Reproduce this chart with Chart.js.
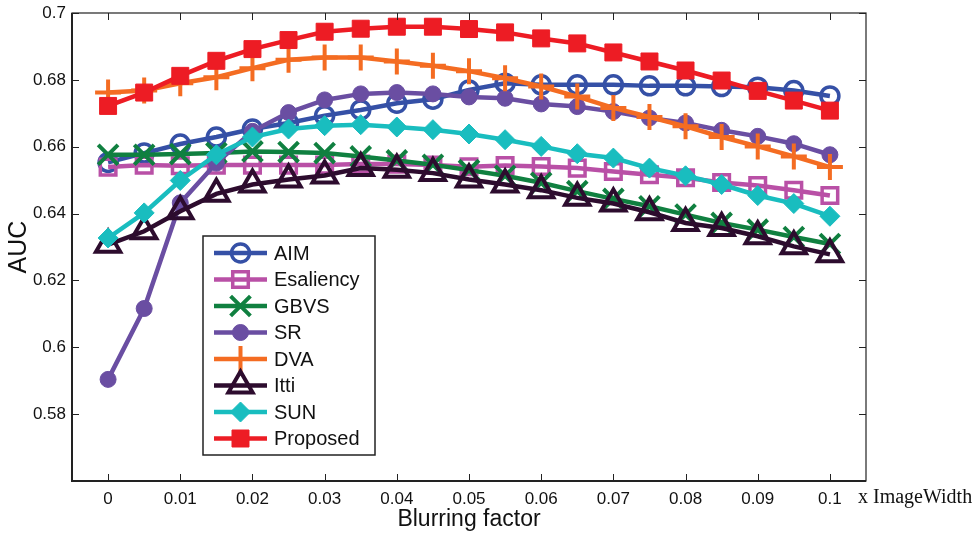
<!DOCTYPE html>
<html>
<head>
<meta charset="utf-8">
<script src="https://cdn.jsdelivr.net/npm/chart.js@4.4.0/dist/chart.umd.min.js"></script>
<style>
  html, body { margin: 0; padding: 0; background: #fff; }
  #wrap { width: 979px; height: 538px; }
</style>
</head>
<body>
<div id="wrap"><canvas id="aucChart" width="979" height="538"></canvas></div>
<script>
// blurring factor (x ImageWidth)
const blurFactors = [0, 0.005, 0.01, 0.015, 0.02, 0.025, 0.03, 0.035, 0.04, 0.045, 0.05,
  0.055, 0.06, 0.065, 0.07, 0.075, 0.08, 0.085, 0.09, 0.095, 0.1];
const xTicks = [0, 0.01, 0.02, 0.03, 0.04, 0.05, 0.06, 0.07, 0.08, 0.09, 0.1];
const yTicks = [0.58, 0.6, 0.62, 0.64, 0.66, 0.68, 0.7];

const aimAuc = [0.6553, 0.6581, 0.6608, 0.6629, 0.6653, 0.6671, 0.6693, 0.6710, 0.6730, 0.6742, 0.6770,
  0.6790, 0.6785, 0.6785, 0.6785, 0.6782, 0.6782, 0.6780, 0.6778, 0.6768, 0.6752];
const esaliencyAuc = [0.6539, 0.6545, 0.6543, 0.6545, 0.6545, 0.6545, 0.6545, 0.6548, 0.6548, 0.6545, 0.6540,
  0.6544, 0.6541, 0.6536, 0.6526, 0.6516, 0.6507, 0.6493, 0.6484, 0.6470, 0.6454];
const gbvsAuc = [0.6576, 0.6576, 0.6578, 0.6581, 0.6586, 0.6584, 0.6581, 0.6571, 0.6559, 0.6546, 0.6530,
  0.6513, 0.6492, 0.6467, 0.6444, 0.6422, 0.6397, 0.6372, 0.6352, 0.6330, 0.6309];
const srAuc = [0.5904, 0.6116, 0.6432, 0.6551, 0.6646, 0.6702, 0.6740, 0.6758, 0.6762, 0.6758, 0.6749,
  0.6745, 0.6728, 0.6720, 0.6705, 0.6686, 0.6671, 0.6649, 0.6631, 0.6609, 0.6576];
const dvaAuc = [0.6762, 0.6768, 0.6790, 0.6808, 0.6835, 0.6860, 0.6867, 0.6867, 0.6855, 0.6842, 0.6826,
  0.6805, 0.6780, 0.6750, 0.6716, 0.6689, 0.6661, 0.6629, 0.6601, 0.6571, 0.6539];
const ittiAuc = [0.6307, 0.6347, 0.6407, 0.6459, 0.6487, 0.6502, 0.6514, 0.6536, 0.6531, 0.6521, 0.6502,
  0.6487, 0.6470, 0.6447, 0.6430, 0.6404, 0.6372, 0.6357, 0.6332, 0.6302, 0.6278];
const sunAuc = [0.6327, 0.6402, 0.6499, 0.6576, 0.6629, 0.6653, 0.6663, 0.6666, 0.6659, 0.6651, 0.6638,
  0.6621, 0.6601, 0.6579, 0.6566, 0.6536, 0.6513, 0.6487, 0.6454, 0.6430, 0.6392];
const proposedAuc = [0.6722, 0.6762, 0.6812, 0.6857, 0.6892, 0.6919, 0.6944, 0.6953, 0.6959, 0.6959, 0.6952,
  0.6942, 0.6924, 0.6909, 0.6882, 0.6855, 0.6828, 0.6798, 0.6767, 0.6738, 0.6708];

const seriesStyles = [
  { label: 'AIM', values: aimAuc, color: '#3550a6', pointStyle: 'circle', radius: 9, border: 3.5, filled: false },
  { label: 'Esaliency', values: esaliencyAuc, color: '#b950a6', pointStyle: 'rect', radius: 11, border: 3.5, filled: false },
  { label: 'GBVS', values: gbvsAuc, color: '#108040', pointStyle: 'crossRot', radius: 14, border: 4, filled: false },
  { label: 'SR', values: srAuc, color: '#6a4ea2', pointStyle: 'circle', radius: 8, border: 1, filled: true },
  { label: 'DVA', values: dvaAuc, color: '#f46c22', pointStyle: 'cross', radius: 13, border: 4, filled: false },
  { label: 'Itti', values: ittiAuc, color: '#2d0c2e', pointStyle: 'triangle', radius: 14, border: 4, filled: false },
  { label: 'SUN', values: sunAuc, color: '#19bdbf', pointStyle: 'rectRot', radius: 10, border: 1, filled: true },
  { label: 'Proposed', values: proposedAuc, color: '#ed1c24', pointStyle: 'rect', radius: 12, border: 1, filled: true }
];

const datasets = seriesStyles.map((s, i) => ({
  label: s.label,
  data: blurFactors.map((x, j) => ({ x, y: s.values[j] })),
  borderColor: s.color,
  backgroundColor: s.filled ? s.color : 'rgba(0,0,0,0)',
  borderWidth: 4.5,
  tension: 0,
  pointStyle: s.pointStyle,
  pointRadius: s.radius,
  pointBorderWidth: s.border,
  pointBorderColor: s.color,
  pointBackgroundColor: s.filled ? s.color : 'rgba(0,0,0,0)',
  order: seriesStyles.length - i
}));

// box with inward tick marks, like the original figure
const boxPlugin = {
  id: 'boxPlugin',
  afterDatasetsDraw(chart) {
    const { ctx, chartArea: a, scales } = chart;
    ctx.save();
    ctx.strokeStyle = '#222';
    ctx.lineWidth = 1;
    ctx.beginPath();
    xTicks.forEach(v => {
      const px = Math.round(scales.x.getPixelForValue(v)) + 0.5;
      ctx.moveTo(px, a.bottom); ctx.lineTo(px, a.bottom - 7);
      ctx.moveTo(px, a.top); ctx.lineTo(px, a.top + 7);
    });
    yTicks.forEach(v => {
      const py = Math.round(scales.y.getPixelForValue(v)) + 0.5;
      ctx.moveTo(a.left, py); ctx.lineTo(a.left + 7, py);
      ctx.moveTo(a.right, py); ctx.lineTo(a.right - 7, py);
    });
    ctx.stroke();
    ctx.lineWidth = 1.2;
    ctx.strokeRect(a.left, a.top, a.right - a.left, a.bottom - a.top);
    ctx.lineWidth = 2;
    ctx.beginPath();
    ctx.moveTo(a.left, a.top); ctx.lineTo(a.left, a.bottom); ctx.lineTo(a.right, a.bottom);
    ctx.stroke();
    ctx.restore();
  },
  afterDraw(chart) {
    const { ctx, chartArea: a } = chart;
    ctx.save();
    // unit label after the last tick
    ctx.fillStyle = '#111';
    ctx.font = '20px "Liberation Serif", "Times New Roman", serif';
    ctx.textAlign = 'left';
    ctx.textBaseline = 'middle';
    ctx.fillText('x ImageWidth', a.right - 8, a.bottom + 17);

    // legend box
    const lx = a.left + 131, ly = a.top + 223, lw = 172, lh = 219;
    ctx.fillStyle = '#fff';
    ctx.fillRect(lx, ly, lw, lh);
    ctx.strokeStyle = '#222';
    ctx.lineWidth = 1.5;
    ctx.strokeRect(lx, ly, lw, lh);
    ctx.font = '20px "Liberation Sans", Arial, Helvetica, sans-serif';
    seriesStyles.forEach((s, i) => {
      const y = ly + 17 + i * 26.5;
      ctx.strokeStyle = s.color;
      ctx.lineWidth = 4.5;
      ctx.beginPath();
      ctx.moveTo(lx + 11, y); ctx.lineTo(lx + 64, y);
      ctx.stroke();
      ctx.fillStyle = s.filled ? s.color : 'rgba(0,0,0,0)';
      ctx.lineWidth = s.border;
      if (Chart.helpers && Chart.helpers.drawPoint) {
        Chart.helpers.drawPoint(ctx, { pointStyle: s.pointStyle, radius: s.radius, borderWidth: s.border, rotation: 0 }, lx + 37.5, y);
      }
      ctx.fillStyle = '#111';
      ctx.fillText(s.label, lx + 71, y + 1);
    });
    ctx.restore();
  }
};

new Chart(document.getElementById('aucChart'), {
  type: 'line',
  data: { datasets },
  options: {
    responsive: false,
    animation: false,
    layout: { autoPadding: false, padding: { left: 0, top: 13, right: 113, bottom: 0 } },
    plugins: { legend: { display: false }, tooltip: { enabled: false } },
    scales: {
      x: {
        type: 'linear',
        min: -0.005,
        max: 0.105,
        afterBuildTicks: s => { s.ticks = xTicks.map(v => ({ value: v })); },
        afterFit: s => { s.height = 57; s.paddingLeft = 0; s.paddingRight = 0; },
        grid: { display: false, drawTicks: false },
        border: { display: false },
        ticks: {
          padding: 8,
          maxRotation: 0,
          autoSkip: false,
          color: '#111',
          font: { family: '"Liberation Sans", Arial, Helvetica, sans-serif', size: 17 },
          callback: v => String(Number(v.toFixed(3)))
        },
        title: {
          display: true,
          text: 'Blurring factor',
          color: '#111',
          padding: { top: 0, bottom: 5 },
          font: { family: '"Liberation Sans", Arial, Helvetica, sans-serif', size: 23 }
        }
      },
      y: {
        min: 0.56,
        max: 0.7,
        afterBuildTicks: s => { s.ticks = yTicks.map(v => ({ value: v })); },
        afterFit: s => { s.width = 72; s.paddingTop = 0; s.paddingBottom = 0; },
        grid: { display: false, drawTicks: false },
        border: { display: false },
        ticks: {
          padding: 6,
          autoSkip: false,
          color: '#111',
          font: { family: '"Liberation Sans", Arial, Helvetica, sans-serif', size: 17 },
          callback: v => String(Number(v.toFixed(2)))
        },
        title: {
          display: true,
          text: 'AUC',
          color: '#111',
          padding: { top: 4, bottom: 0 },
          font: { family: '"Liberation Sans", Arial, Helvetica, sans-serif', size: 25 }
        }
      }
    }
  },
  plugins: [boxPlugin]
});
</script>
</body>
</html>
